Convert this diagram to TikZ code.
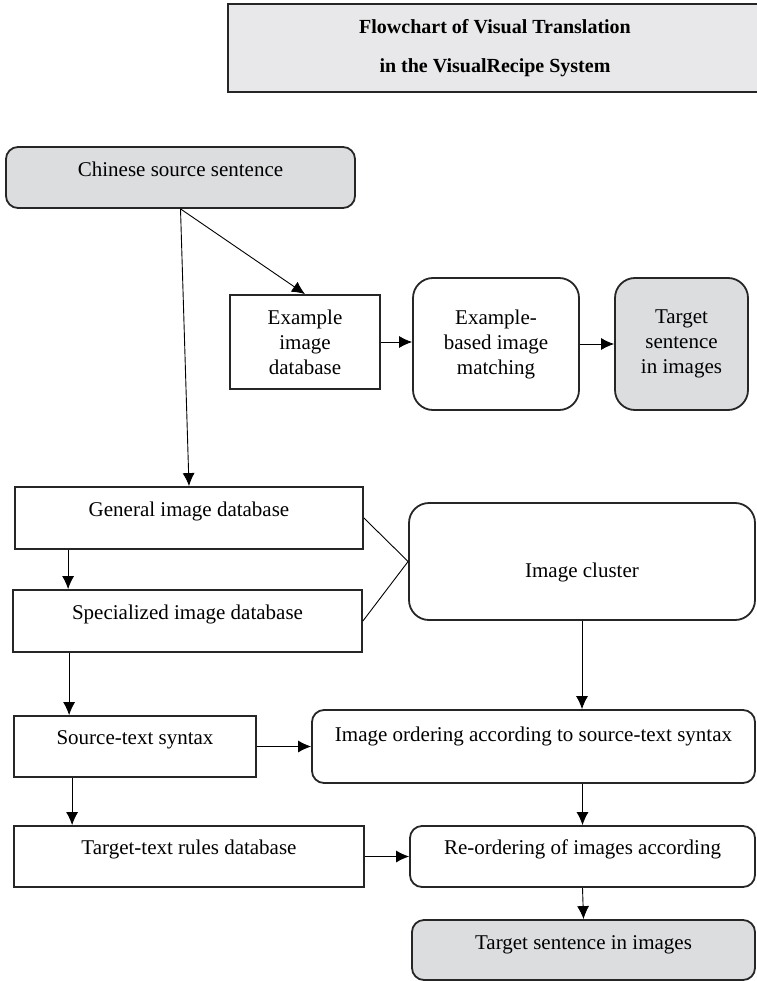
\documentclass[tikz,border=0pt]{standalone}
\usepackage{fontspec}
\setmainfont{Liberation Serif}
\usetikzlibrary{positioning,arrows.meta,calc}

\definecolor{boxgray}{RGB}{220,221,223}
\definecolor{titlegray}{RGB}{232,232,234}

\begin{document}
\begin{tikzpicture}[x=1pt,y=-1pt,
  font=\fontsize{21}{25}\selectfont,
  box/.style={draw=black!85, line width=1.8pt, inner sep=3pt},
  rbox/.style={box, rounded corners=#1},
  rbox/.default=12pt,
  shaded/.style={fill=boxgray},
  high/.style={text height=15pt, text depth=#1},
  high/.default=19pt,
  flow/.style={line width=0.9pt, -{Latex[length=13pt,width=12pt]}},
  link/.style={line width=0.9pt}]
  \useasboundingbox (0,0) rectangle (756,981);

  % title
  \node[box, fill=titlegray, minimum width=534pt, minimum height=88pt, align=center,
    font=\bfseries\fontsize{20}{39}\selectfont] (title) at (495,48)
    {Flowchart of Visual Translation\\in the VisualRecipe System};

  % upper branch
  \node[rbox, shaded, high=17pt, minimum width=349pt, minimum height=61pt] (src) at (180.5,177.5) {Chinese source sentence};
  \node[box, align=center, minimum width=150pt, minimum height=94pt] (exdb) at (305,342) {Example\\image\\database};
  \node[rbox=20pt, align=center, minimum width=166pt, minimum height=132pt] (match) at (496,344) {Example-\\based image\\matching};
  \node[rbox=20pt, shaded, align=center, minimum width=133pt, minimum height=132pt] (tgtA) at (681.5,344) {Target\\sentence\\in images};

  % databases and cluster
  \node[box, high, minimum width=348pt, minimum height=62pt] (gendb) at (189,518) {General image database};
  \node[box, high, minimum width=349pt, minimum height=62pt] (specdb) at (187.5,621) {Specialized image database};
  \node[rbox=20pt, text height=36pt, text depth=4pt, minimum width=346pt, minimum height=117pt] (cluster) at (582,561.5) {Image cluster};

  % lower branch
  \node[box, high, minimum width=242pt, minimum height=61pt] (srcsyn) at (135,746.5) {Source-text syntax};
  \node[rbox, high=25pt, minimum width=443pt, minimum height=73pt] (order) at (533.5,746.5) {Image ordering according to source-text syntax};
  \node[box, high, minimum width=350pt, minimum height=61pt] (rules) at (189,856.5) {Target-text rules database};
  \node[rbox, high, minimum width=345pt, minimum height=61pt] (reorder) at (582.5,856.5) {Re-ordering of images according};
  \node[rbox, shaded, high=17pt, minimum width=343pt, minimum height=60pt] (tgtB) at (583.5,950) {Target sentence in images};

  % arrows
  \draw[flow] (src.south) -- (gendb.north);
  \draw[flow] (src.south) -- (exdb.north);
  \draw[flow] (exdb.east) -- (match.west |- exdb.east);
  \draw[flow] (match.east) -- (tgtA.west);
  \draw[flow] ([xshift=54pt]gendb.south west) -- ([xshift=54pt]gendb.south west |- specdb.north);
  \draw[link] (gendb.east) -- (cluster.west);
  \draw[link] (specdb.east) -- (cluster.west);
  \draw[flow] (cluster.south) -- (cluster.south |- order.north);
  \draw[flow] ([xshift=57pt]specdb.south west) -- ([xshift=57pt]specdb.south west |- srcsyn.north);
  \draw[flow] (srcsyn.east) -- (order.west);
  \draw[flow] ([xshift=59pt]srcsyn.south west) -- ([xshift=59pt]srcsyn.south west |- rules.north);
  \draw[flow] (reorder.north |- order.south) -- (reorder.north);
  \draw[flow] (rules.east) -- (reorder.west);
  \draw[flow] (reorder.south) -- (tgtB.north);
\end{tikzpicture}
\end{document}
